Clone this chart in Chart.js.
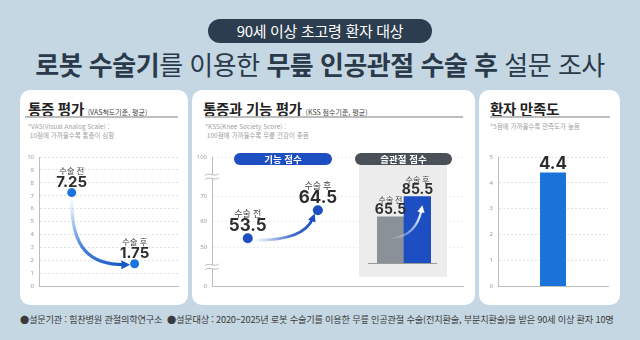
<!DOCTYPE html>
<html lang="ko">
<head>
<meta charset="utf-8">
<script src="https://cdn.jsdelivr.net/npm/chart.js@4.4.0/dist/chart.umd.min.js"></script>
<style>
body{margin:0;width:640px;height:340px;background:#c5d7e3;position:relative;overflow:hidden;font-family:"Noto Sans CJK KR","Noto Sans",sans-serif;}
.abs{position:absolute}
.pill{left:208px;top:19px;width:224px;height:24px;border-radius:12px;background:#2c3d4f;color:#fff;font-size:15px;line-height:24px;text-align:center;letter-spacing:-0.3px}
.title{left:0;width:640px;top:47px;text-align:center;font-size:26px;color:#2b3a4a;line-height:34px;letter-spacing:-0.5px;font-weight:400}
.title b{font-weight:700}
.card{background:#fff;border-radius:10px;top:90px;height:215px}
.ct{top:8px;font-size:14.5px;font-weight:700;color:#222;white-space:nowrap;letter-spacing:-0.3px}
.ct small{font-size:7px;font-weight:400;color:#444;letter-spacing:0}
.ul{top:26px;height:1.5px;background:#bdbdbd}
.note{top:32px;font-size:6.5px;line-height:9px;color:#a0a0a0;white-space:pre}
.tag{height:12px;border-radius:6px;color:#fff;font-size:9.5px;line-height:12px;text-align:center;font-weight:700}
.foot{left:20px;top:312px;font-size:9.2px;color:#3a3a3a;white-space:nowrap;letter-spacing:-0.2px}
</style>
</head>
<body>
<div class="abs pill">90세 이상 초고령 환자 대상</div>
<div class="abs title"><b>로봇 수술기</b>를 이용한 <b>무릎 인공관절 수술 후</b> 설문 조사</div>

<div class="abs card" style="left:20px;width:168px">
  <div class="abs ct" style="left:8px">통증 평가 <small>(VAS척도기준, 평균)</small></div>
  <div class="abs ul" style="left:5px;width:153px"></div>
  <div class="abs note" style="left:8px">*VAS(Visual Analog Scale) :
 10점에 가까울수록 통증이 심함</div>
</div>
<div class="abs card" style="left:192px;width:283px">
  <div class="abs ct" style="left:11px">통증과 기능 평가 <small>(KSS 점수기준, 평균)</small></div>
  <div class="abs ul" style="left:13px;width:258px"></div>
  <div class="abs note" style="left:13px">*KSS(Knee Society Score) :
 100점에 가까울수록 무릎 건강이 좋음</div>
</div>
<div class="abs card" style="left:479px;width:141px">
  <div class="abs ct" style="left:11px">환자 만족도</div>
  <div class="abs ul" style="left:11px;width:120px"></div>
  <div class="abs note" style="left:11px">*5점에 가까울수록 만족도가 높음</div>
</div>

<div class="abs" style="left:20px;top:145px"><canvas id="pain" width="165" height="150"></canvas></div>
<div class="abs" style="left:192px;top:145px"><canvas id="func" width="280" height="150"></canvas></div>
<div class="abs" style="left:359px;top:165px;width:88px;height:112px;background:#ececec"></div>
<div class="abs tag" style="left:234px;top:153px;width:98px;background:#1d4fc2">기능 점수</div>
<div class="abs tag" style="left:355px;top:153px;width:97px;background:#4a5058">슬관절 점수</div>
<div class="abs" style="left:359px;top:165px"><canvas id="knee" width="88" height="112"></canvas></div>
<div class="abs" style="left:479px;top:145px"><canvas id="sat" width="141" height="150"></canvas></div>

<div class="abs foot">●설문기관 : 힘찬병원 관절의학연구소 &nbsp;●설문대상 : 2020~2025년 로봇 수술기를 이용한 무릎 인공관절 수술(전치환술, 부분치환술)을 받은 90세 이상 환자 10명</div>

<script>
// data
const stageLabels = ['수술 전', '수술 후'];
const painValues = [7.25, 1.75];
const painTicks = [0, 1, 2, 3, 4, 5, 6, 7, 8, 9, 10];
const funcValues = [53.5, 64.5];
const funcTicks = [0, 50, 60, 70, 100];
const kneeValues = [65.5, 85.5];
const satLabels = ['환자 만족도'];
const satValues = [4.4];
const satTicks = [0, 1, 2, 3, 4, 5];

const numFont = '"Inter","Noto Sans",sans-serif';
const krFont = '"Noto Sans CJK KR",sans-serif';
const tickFont = { size: 6, family: '"Noto Sans",sans-serif' };

// labels over marks
const markLabels = {
  id: 'markLabels',
  afterDatasetsDraw(chart, args, o) {
    if (!o.values) return;
    const ctx = chart.ctx;
    chart.getDatasetMeta(0).data.forEach((el, i) => {
      const x = el.x, y = el.y;
      ctx.save();
      ctx.textAlign = 'center';
      ctx.textBaseline = 'middle';
      if (o.names) {
        ctx.font = o.nameSize + 'px ' + krFont;
        ctx.fillStyle = '#444';
        ctx.fillText(o.names[i], x, y + o.nameDy);
      }
      ctx.fillStyle = '#2d2d2d';
      ctx.font = '700 ' + o.valueSize + 'px ' + numFont;
      ctx.fillText(String(o.values[i]), x, y + o.valueDy);
      ctx.restore();
    });
  }
};
Chart.register(markLabels);

function arrowHead(ctx, cx, cy, ex, ey, size, color) {
  const a = Math.atan2(ey - cy, ex - cx);
  ctx.fillStyle = color;
  ctx.beginPath();
  ctx.moveTo(ex + Math.cos(a) * size, ey + Math.sin(a) * size);
  ctx.lineTo(ex + Math.cos(a + 2.2) * size, ey + Math.sin(a + 2.2) * size);
  ctx.lineTo(ex + Math.cos(a - 2.2) * size, ey + Math.sin(a - 2.2) * size);
  ctx.closePath();
  ctx.fill();
}

const baseGrid = { color: '#e3e3e3', drawTicks: false };
const baseBorder = { color: '#bdbdbd', width: 1, dash: [2, 2] };

// chart 1 - VAS
new Chart(document.getElementById('pain'), {
  type: 'line',
  data: { datasets: [{
    data: painValues.map((v, i) => ({ x: i, y: v })),
    showLine: false, pointRadius: 4.5, pointBackgroundColor: '#1a74e0', pointBorderWidth: 0
  }] },
  options: {
    responsive: false, animation: false, devicePixelRatio: 1,
    layout: { padding: { top: 12, right: 7, bottom: 5, left: 0 } },
    plugins: { legend: { display: false }, tooltip: { enabled: false },
      markLabels: { names: stageLabels, values: painValues, nameSize: 8.5, nameDy: -22, valueSize: 15, valueDy: -10 } },
    scales: {
      x: { type: 'linear', min: -0.52, max: 1.69, grid: { display: false }, ticks: { display: false },
           border: { color: '#bdbdbd' }, afterFit: s => { s.height = 0; } },
      y: { min: 0, max: 10, grid: baseGrid, border: baseBorder,
           afterBuildTicks: s => { s.ticks = painTicks.map(v => ({ value: v })); },
           ticks: { font: tickFont, color: '#9a9a9a', padding: 5 },
           afterFit: s => { s.width = 19; } }
    }
  },
  plugins: [{
    id: 'painArrow',
    afterDatasetsDraw(chart) {
      const [p0, p1] = chart.getDatasetMeta(0).data;
      const ctx = chart.ctx;
      const sx = p0.x, sy = p0.y + 9, ex = p1.x - 10, ey = p1.y + 1;
      const c1x = sx, c1y = sy + (ey - sy) * 0.75, c2x = sx + (ex - sx) * 0.35, c2y = ey;
      const g = ctx.createLinearGradient(sx, sy, ex, ey);
      g.addColorStop(0, 'rgba(26,116,224,0.05)');
      g.addColorStop(0.5, 'rgba(26,100,210,0.8)');
      g.addColorStop(1, '#1559c8');
      ctx.save();
      ctx.strokeStyle = g; ctx.lineWidth = 3.2; ctx.lineCap = 'round';
      ctx.beginPath(); ctx.moveTo(sx, sy); ctx.bezierCurveTo(c1x, c1y, c2x, c2y, ex, ey); ctx.stroke();
      arrowHead(ctx, c2x, c2y, ex, ey, 5.5, '#1559c8');
      ctx.restore();
    }
  }]
});

// chart 2 - KSS function score, broken axis
const gapUnits = 15.4;
function toAxis(v) {
  if (v <= 50) return 50 - gapUnits * (50 - v) / 50;
  if (v >= 70) return 70 + gapUnits * (v - 70) / 30;
  return v;
}
new Chart(document.getElementById('func'), {
  type: 'line',
  data: { datasets: [{
    data: funcValues.map((v, i) => ({ x: i, y: toAxis(v) })),
    showLine: false, pointRadius: 5, pointBackgroundColor: '#1d4fc2', pointBorderWidth: 0
  }] },
  options: {
    responsive: false, animation: false, devicePixelRatio: 1,
    layout: { padding: { top: 12, right: 9, bottom: 6, left: 0 } },
    plugins: { legend: { display: false }, tooltip: { enabled: false },
      markLabels: { names: stageLabels, values: funcValues, nameSize: 9, nameDy: -25, valueSize: 17, valueDy: -12 } },
    scales: {
      x: { type: 'linear', min: -0.51, max: 3.07, grid: { display: false }, ticks: { display: false },
           border: { color: '#bdbdbd' }, afterFit: s => { s.height = 0; } },
      y: { min: toAxis(0), max: toAxis(100), grid: { color: '#ececec', drawTicks: false }, border: baseBorder,
           afterBuildTicks: s => { s.ticks = funcTicks.map(v => ({ value: toAxis(v) })); },
           ticks: { font: tickFont, color: '#9a9a9a', padding: 5, callback: (v, i) => funcTicks[i] },
           afterFit: s => { s.width = 20; } }
    }
  },
  plugins: [{
    id: 'funcExtras',
    afterDatasetsDraw(chart) {
      const ctx = chart.ctx;
      const y = chart.scales.y, ax = chart.chartArea.left;
      // axis breaks
      [(toAxis(0) + 50) / 2, (70 + toAxis(100)) / 2].forEach(m => {
        const py = y.getPixelForValue(m);
        ctx.save();
        ctx.fillStyle = '#fff';
        ctx.fillRect(ax - 2, py - 2, 4, 4);
        ctx.strokeStyle = '#aaa'; ctx.lineWidth = 0.8;
        [-2, 2].forEach(o => {
          ctx.beginPath();
          ctx.moveTo(ax - 7, py + o + 1);
          ctx.bezierCurveTo(ax - 3, py + o - 3, ax + 3, py + o + 3, ax + 7, py + o - 1);
          ctx.stroke();
        });
        ctx.restore();
      });
      // arrow
      const [p0, p1] = chart.getDatasetMeta(0).data;
      const sx = p0.x + 9, sy = p0.y + 2, ex = p1.x - 5, ey = p1.y + 8;
      const cx = p1.x - 14, cy = p0.y + 2;
      const g = ctx.createLinearGradient(sx, sy, ex, ey);
      g.addColorStop(0, 'rgba(29,79,194,0.05)');
      g.addColorStop(0.6, 'rgba(29,79,194,0.85)');
      g.addColorStop(1, '#1d4fc2');
      ctx.save();
      ctx.strokeStyle = g; ctx.lineWidth = 3; ctx.lineCap = 'round';
      ctx.beginPath(); ctx.moveTo(sx, sy); ctx.quadraticCurveTo(cx, cy, ex, ey); ctx.stroke();
      arrowHead(ctx, cx, cy, ex, ey, 5, '#1d4fc2');
      ctx.restore();
    }
  }]
});

// chart 2 inset - knee score bars
new Chart(document.getElementById('knee'), {
  type: 'bar',
  data: { labels: stageLabels, datasets: [{
    data: kneeValues, backgroundColor: ['#8a9199', '#1d4fc2'],
    categoryPercentage: 1, barPercentage: 1, borderWidth: 0
  }] },
  options: {
    responsive: false, animation: false, devicePixelRatio: 1,
    layout: { padding: { top: 17, right: 16, bottom: 14, left: 18 } },
    plugins: { legend: { display: false }, tooltip: { enabled: false },
      markLabels: { names: stageLabels, values: kneeValues, nameSize: 8, nameDy: -17, valueSize: 14, valueDy: -7 } },
    scales: { x: { display: false }, y: { display: false, min: 20, max: 100 } }
  },
  plugins: [{
    id: 'kneeExtras',
    afterDatasetsDraw(chart) {
      const ctx = chart.ctx, a = chart.chartArea;
      const [b0, b1] = chart.getDatasetMeta(0).data;
      ctx.save();
      ctx.strokeStyle = '#9a9a9a'; ctx.lineWidth = 1;
      ctx.beginPath(); ctx.moveTo(a.left - 9, a.bottom + 0.5); ctx.lineTo(a.right + 6, a.bottom + 0.5); ctx.stroke();
      const sx = b0.x + 3, sy = a.bottom - 25, ex = b1.x + 4, ey = b1.y + 13;
      const cx = b1.x - 1, cy = sy - 3;
      const g = ctx.createLinearGradient(sx, sy, ex, ey);
      g.addColorStop(0, 'rgba(255,255,255,0.1)');
      g.addColorStop(1, '#ffffff');
      ctx.strokeStyle = g; ctx.lineWidth = 2.2; ctx.lineCap = 'round';
      ctx.beginPath(); ctx.moveTo(sx, sy); ctx.quadraticCurveTo(cx, cy, ex, ey); ctx.stroke();
      arrowHead(ctx, cx, cy, ex, ey, 4.5, '#ffffff');
      ctx.restore();
    }
  }]
});

// chart 3 - satisfaction
new Chart(document.getElementById('sat'), {
  type: 'bar',
  data: { labels: satLabels, datasets: [{
    data: satValues, backgroundColor: '#1a73d9', borderWidth: 0,
    categoryPercentage: 1, barPercentage: 0.236
  }] },
  options: {
    responsive: false, animation: false, devicePixelRatio: 1,
    layout: { padding: { top: 12, right: 12, bottom: 6, left: 0 } },
    plugins: { legend: { display: false }, tooltip: { enabled: false },
      markLabels: { values: satValues, valueSize: 17, valueDy: -9 } },
    scales: {
      x: { grid: { display: false }, ticks: { display: false }, border: { color: '#bdbdbd' },
           afterFit: s => { s.height = 0; } },
      y: { min: 0, max: 5, grid: baseGrid, border: baseBorder,
           afterBuildTicks: s => { s.ticks = satTicks.map(v => ({ value: v })); },
           ticks: { font: tickFont, color: '#9a9a9a', padding: 5 },
           afterFit: s => { s.width = 19; } }
    }
  }
});
</script>
</body>
</html>
